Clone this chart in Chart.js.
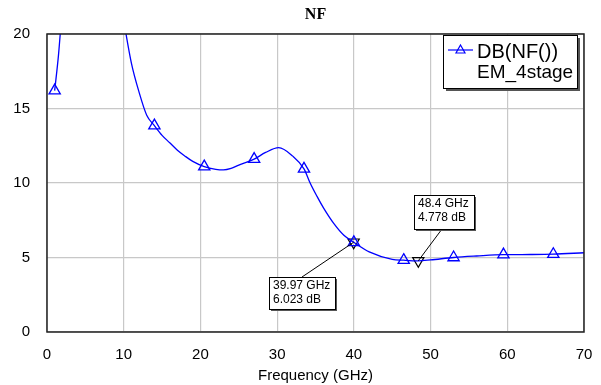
<!DOCTYPE html>
<html lang="en">
<head>
  <meta charset="UTF-8">
  <title>NF</title>
  <script src="https://cdn.jsdelivr.net/npm/chart.js"></script>
  <style>
    html, body { margin: 0; padding: 0; background: #fff; }
    #wrap { width: 601px; height: 385px; }
  </style>
</head>
<body>
  <div id="wrap"><canvas id="nfChart" width="601" height="385"></canvas></div>

  <script>
    // Simulated noise figure of the 4-stage EM model
    const freqGHz = [1, 1.5, 2.5, 5, 7.5, 9, 10, 11, 12, 13, 14, 15, 16, 17, 18, 19, 20.5, 22, 23, 24, 25, 27, 28.5, 30.2, 32, 33.5, 34.3, 35.2, 36.1, 37.4, 38.7, 40, 42, 45, 46.5, 48.4, 50, 53, 56, 59.5, 63, 66, 70];
    const nfDb = [16.2, 18.6, 25, 32, 30, 24, 20.9, 18.05, 16.1, 14.55, 13.85, 13.2, 12.7, 12.2, 11.8, 11.45, 11.1, 10.92, 10.88, 10.98, 11.2, 11.6, 12.05, 12.37, 11.82, 10.95, 10.0, 9.1, 8.28, 7.27, 6.49, 6.02, 5.38, 4.88, 4.82, 4.778, 4.84, 5.0, 5.1, 5.19, 5.2, 5.22, 5.32];

    // trace symbols (every 6.5 GHz)
    const symbolFreq = [1, 7.5, 14, 20.5, 27, 33.5, 40, 46.5, 53, 59.5, 66];
    const symbolDb = [16.2, 30, 13.85, 11.1, 11.6, 10.95, 6.02, 4.82, 5.0, 5.19, 5.22];

    // readout markers
    const markerFreq = [39.97, 48.4];
    const markerDb = [6.023, 4.778];

    const xTicks = [0, 10, 20, 30, 40, 50, 60, 70];
    const yTicks = [0, 5, 10, 15, 20];
    const legendLines = ["DB(NF())", "EM_4stage"];

    const BLUE = "#0000ff";

    // readout box placement relative to its marker, in pixels
    const readoutBoxes = [
      { dx: -85, dy: 35, w: 66, h: 32, lead: 33, leadFromTop: true },
      { dx: -4, dy: -66, w: 60, h: 34, lead: 28, leadFromTop: false }
    ];

    function boxWithShadow(ctx, x, y, w, h, off) {
      ctx.fillStyle = "#555";
      ctx.fillRect(x + off, y + off, w, h);
      ctx.fillStyle = "#fff";
      ctx.fillRect(x, y, w, h);
      ctx.strokeStyle = "#000";
      ctx.lineWidth = 1;
      ctx.strokeRect(x + 0.5, y + 0.5, w, h);
    }

    const decorations = {
      id: "decorations",
      afterDraw(chart) {
        const { ctx, chartArea: a, scales } = chart;
        ctx.save();

        // plot frame
        ctx.strokeStyle = "#222";
        ctx.lineWidth = 1.5;
        ctx.strokeRect(a.left, a.top, a.right - a.left, a.bottom - a.top);

        // title
        ctx.fillStyle = "#000";
        ctx.font = "bold 16px 'Liberation Serif', 'Times New Roman', serif";
        ctx.textAlign = "center";
        ctx.textBaseline = "middle";
        ctx.fillText("NF", (a.left + a.right) / 2, 15);

        // readout markers with their boxes
        ctx.textAlign = "left";
        ctx.font = "12px 'Liberation Sans', Arial, sans-serif";
        markerFreq.forEach((f, i) => {
          const px = scales.x.getPixelForValue(f);
          const py = scales.y.getPixelForValue(markerDb[i]);
          const b = readoutBoxes[i];
          const bx = Math.round(px + b.dx), by = Math.round(py + b.dy);
          ctx.strokeStyle = "#000";
          ctx.lineWidth = 1;
          ctx.beginPath();
          ctx.moveTo(bx + b.lead, b.leadFromTop ? by : by + b.h);
          ctx.lineTo(px, py);
          ctx.stroke();
          boxWithShadow(ctx, bx, by, b.w, b.h, 2);
          ctx.fillStyle = "#000";
          ctx.fillText(f + " GHz", bx + 4, by + 9);
          ctx.fillText(markerDb[i].toFixed(3) + " dB", bx + 4, by + 23);
        });

        // legend
        const lx = 443, ly = 35, lw = 134, lh = 53;
        boxWithShadow(ctx, lx, ly, lw, lh, 3);
        ctx.strokeStyle = BLUE;
        ctx.lineWidth = 1.2;
        ctx.beginPath();
        ctx.moveTo(448, 50);
        ctx.lineTo(473, 50);
        ctx.stroke();
        // legend triangle symbol
        ctx.beginPath();
        ctx.moveTo(460.5, 45);
        ctx.lineTo(465, 53);
        ctx.lineTo(456, 53);
        ctx.closePath();
        ctx.stroke();
        ctx.fillStyle = "#000";
        ctx.textBaseline = "middle";
        ctx.font = "20px 'Liberation Sans', Arial, sans-serif";
        ctx.fillText(legendLines[0], 477, 52);
        ctx.font = "19px 'Liberation Sans', Arial, sans-serif";
        ctx.fillText(legendLines[1], 477, 73);

        ctx.restore();
      }
    };

    const tickFont = { family: "'Liberation Sans', Arial, sans-serif", size: 15 };

    new Chart(document.getElementById("nfChart"), {
      type: "line",
      data: {
        datasets: [
          {
            label: "DB(NF())",
            data: freqGHz.map((f, i) => ({ x: f, y: nfDb[i] })),
            borderColor: BLUE,
            borderWidth: 1.3,
            pointRadius: 0,
            cubicInterpolationMode: "monotone",
            fill: false
          },
          {
            label: "symbols",
            data: symbolFreq.map((f, i) => ({ x: f, y: symbolDb[i] })),
            showLine: false,
            pointStyle: "triangle",
            pointRadius: 6.5,
            borderColor: BLUE,
            backgroundColor: "rgba(0,0,0,0)",
            pointBorderWidth: 1.3
          },
          {
            label: "markers",
            data: markerFreq.map((f, i) => ({ x: f, y: markerDb[i] })),
            showLine: false,
            pointStyle: "triangle",
            pointRotation: 180,
            pointRadius: 6.5,
            borderColor: "#000",
            backgroundColor: "rgba(0,0,0,0)",
            pointBorderWidth: 1.2
          }
        ]
      },
      options: {
        responsive: false,
        animation: false,
        layout: { padding: { top: 34, right: 17, left: 0, bottom: 0 } },
        plugins: {
          legend: { display: false },
          tooltip: { enabled: false }
        },
        scales: {
          x: {
            type: "linear",
            min: 0,
            max: 70,
            afterBuildTicks: s => { s.ticks = xTicks.map(v => ({ value: v })); },
            afterFit: s => { s.height = 53; s.paddingLeft = 0; s.paddingRight = 0; },
            grid: { color: "#c8c8c8", lineWidth: 1.2, drawTicks: false },
            border: { display: false },
            ticks: { color: "#000", font: tickFont, padding: 14, maxRotation: 0 },
            title: {
              display: true,
              text: "Frequency (GHz)",
              color: "#000",
              font: tickFont,
              padding: { top: 3, bottom: 0 }
            }
          },
          y: {
            min: 0,
            max: 20,
            afterBuildTicks: s => { s.ticks = yTicks.map(v => ({ value: v })); },
            afterFit: s => { s.width = 47; },
            grid: { color: "#c8c8c8", lineWidth: 1.2, drawTicks: false },
            border: { display: false },
            ticks: { color: "#000", font: tickFont, padding: 17 }
          }
        }
      },
      plugins: [decorations]
    });
  </script>
</body>
</html>
